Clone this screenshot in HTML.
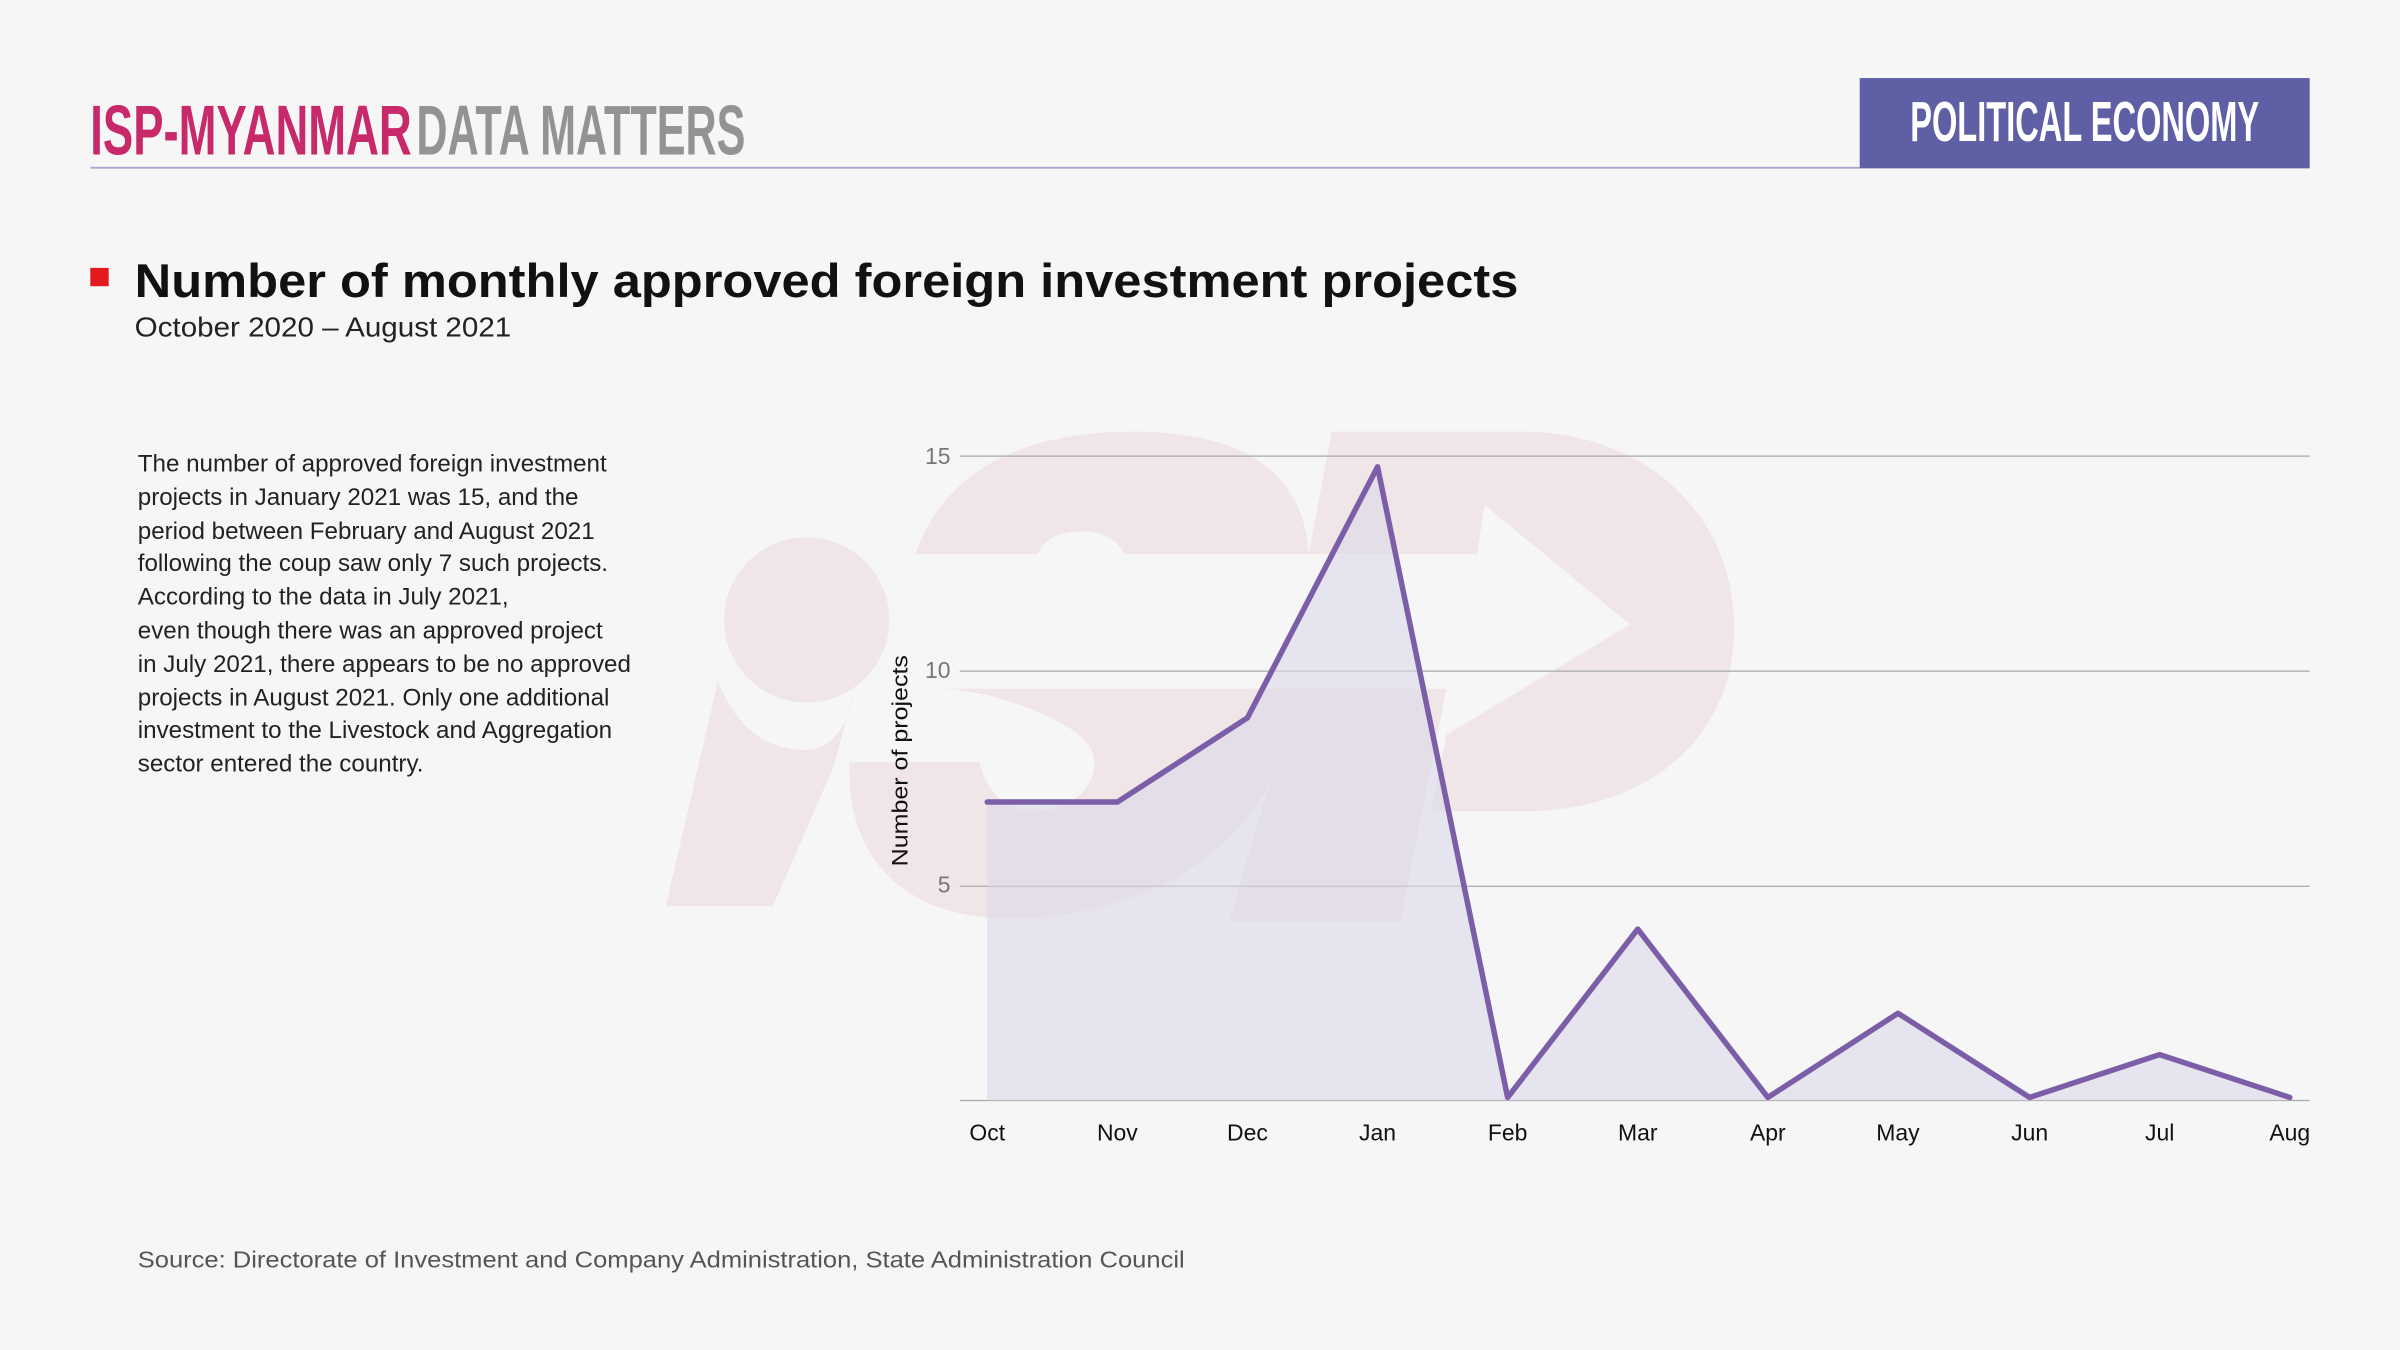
<!DOCTYPE html>
<html><head><meta charset="utf-8"><style>
html,body{margin:0;padding:0;background:#f5f6f5;}
svg{display:block;}
</style></head><body>
<svg width="2400" height="1350" viewBox="0 0 1568 882" xmlns="http://www.w3.org/2000/svg">
<rect width="1568" height="882" fill="#f5f6f5"/>
<!-- watermark -->
<g fill="#f0e6e7">
<circle cx="527" cy="405" r="54"/>
<path d="M469,445 C485,485 510,490 527,490 C545,490 555,470 557,455 L545,500 L505,592 L435,592 Z"/>
<path d="M598,362 C620,300 680,282 740,282 C800,282 850,300 855,360 L855,362 L735,362 C725,345 705,345 690,350 C683,353 680,358 678,362 Z"/>
<path d="M612,450 L945,450 L915,602 L803,602 L830,510 C800,570 730,600 660,600 C590,600 555,560 555,505 L555,498 L640,498 C645,520 660,530 675,530 C700,530 715,515 715,498 C715,480 690,470 665,460 C640,452 625,450 612,450 Z"/>
<path d="M870,282 L1000,282 C1080,285 1133,340 1133,410 C1133,480 1080,528 1000,530 L935,530 L945,480 L1065,408 L970,330 L965,362 L855,362 Z"/>
</g>
<!-- header -->
<text x="59" y="101" font-family="'Liberation Sans Narrow','Liberation Sans',sans-serif" font-weight="bold" font-size="46" fill="#c8296a" textLength="210" lengthAdjust="spacingAndGlyphs">ISP-MYANMAR</text>
<text x="272" y="101" font-family="'Liberation Sans Narrow','Liberation Sans',sans-serif" font-weight="bold" font-size="46" fill="#939395" textLength="215" lengthAdjust="spacingAndGlyphs">DATA MATTERS</text>
<rect x="59" y="109" width="1156" height="1.2" fill="#a9a4d2"/>
<rect x="1215" y="51" width="294" height="59" fill="#5e5fa5"/>
<text x="1362" y="92" text-anchor="middle" font-family="'Liberation Sans Narrow','Liberation Sans',sans-serif" font-weight="bold" font-size="37" fill="#ffffff" textLength="228" lengthAdjust="spacingAndGlyphs">POLITICAL ECONOMY</text>
<!-- title -->
<rect x="59" y="175" width="12" height="12" fill="#e3191f"/>
<text x="88" y="194" font-family="'Liberation Sans',sans-serif" font-weight="bold" font-size="31" fill="#111" textLength="904" lengthAdjust="spacingAndGlyphs">Number of monthly approved foreign investment projects</text>
<text x="88" y="220" font-family="'Liberation Sans',sans-serif" font-size="18" fill="#222" textLength="246" lengthAdjust="spacingAndGlyphs">October 2020 – August 2021</text>
<!-- paragraph -->
<g font-family="'Liberation Sans',sans-serif" font-size="15.8" fill="#222">
<text x="90" y="308">The number of approved foreign investment</text>
<text x="90" y="330">projects in January 2021 was 15, and the</text>
<text x="90" y="352">period between February and August 2021</text>
<text x="90" y="373">following the coup saw only 7 such projects.</text>
<text x="90" y="395">According to the data in July 2021,</text>
<text x="90" y="417">even though there was an approved project</text>
<text x="90" y="439">in July 2021, there appears to be no approved</text>
<text x="90" y="461">projects in August 2021. Only one additional</text>
<text x="90" y="482">investment to the Livestock and Aggregation</text>
<text x="90" y="504">sector entered the country.</text>
</g>
<!-- chart grid -->
<g stroke="#a8a8aa" stroke-width="0.8">
<line x1="627" y1="298" x2="1509" y2="298"/>
<line x1="627" y1="438.5" x2="1509" y2="438.5"/>
<line x1="627" y1="579" x2="1509" y2="579"/>
<line x1="627" y1="719" x2="1509" y2="719"/>
</g>
<g font-family="'Liberation Sans',sans-serif" font-size="15" fill="#777" text-anchor="end">
<text x="621" y="303">15</text>
<text x="621" y="443">10</text>
<text x="621" y="583">5</text>
</g>
<text transform="translate(593,497) rotate(-90)" text-anchor="middle" font-family="'Liberation Sans',sans-serif" font-size="14.5" fill="#111" textLength="138" lengthAdjust="spacingAndGlyphs">Number of projects</text>
<path d="M645,524 L730,524 L815,469 L900,305 L985,717 L1070,607 L1155,717 L1240,662 L1326,717 L1411,689 L1496,717 L1496,719 L645,719 Z" fill="#dcd9ea" fill-opacity="0.6"/>
<polyline points="645,524 730,524 815,469 900,305 985,717 1070,607 1155,717 1240,662 1326,717 1411,689 1496,717" fill="none" stroke="#7b5ea7" stroke-width="3.6" stroke-linejoin="round" stroke-linecap="round"/>
<g font-family="'Liberation Sans',sans-serif" font-size="15" fill="#111" text-anchor="middle">
<text x="645" y="745">Oct</text><text x="730" y="745">Nov</text><text x="815" y="745">Dec</text>
<text x="900" y="745">Jan</text><text x="985" y="745">Feb</text><text x="1070" y="745">Mar</text>
<text x="1155" y="745">Apr</text><text x="1240" y="745">May</text><text x="1326" y="745">Jun</text>
<text x="1411" y="745">Jul</text><text x="1496" y="745">Aug</text>
</g>
<text x="90" y="828" font-family="'Liberation Sans',sans-serif" font-size="15" fill="#555" textLength="684" lengthAdjust="spacingAndGlyphs">Source: Directorate of Investment and Company Administration, State Administration Council</text>
</svg>
</body></html>
